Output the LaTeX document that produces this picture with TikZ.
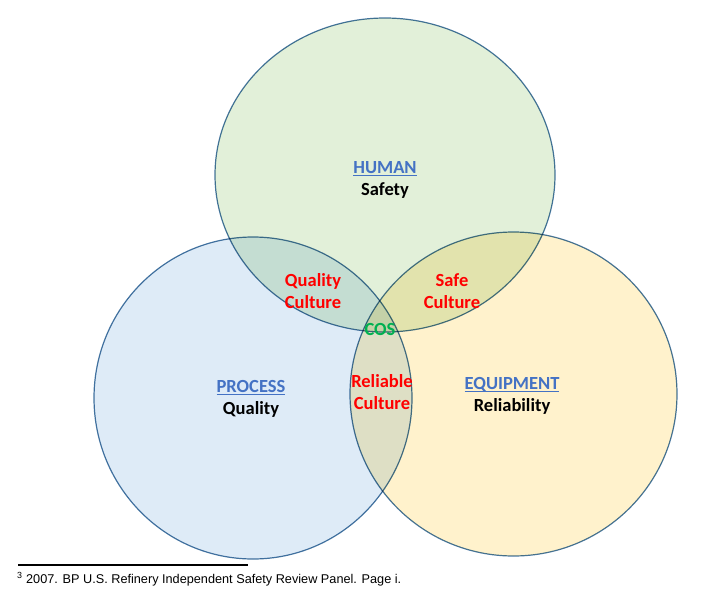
\documentclass[tikz,border=0pt]{standalone}
\usepackage{fontspec}
\setmainfont{Carlito}
\newfontfamily\notefont{Liberation Sans}
\usetikzlibrary{positioning}
\definecolor{ringline}{RGB}{70,118,162}
\definecolor{humanfill}{RGB}{226,240,217}
\definecolor{processfill}{RGB}{222,235,247}
\definecolor{equipfill}{RGB}{255,242,204}
\definecolor{headblue}{RGB}{68,114,196}
\definecolor{cultred}{RGB}{255,0,0}
\definecolor{cosgreen}{RGB}{0,176,80}
\newcommand\headline[1]{\setbox0\hbox{#1}\rlap{\rule[-2.8pt]{\wd0}{1.2pt}}\box0}

\begin{document}
\begin{tikzpicture}[
  x=1pt, y=-1pt,
  ring/.style={draw=ringline, line width=1.2pt, fill=#1, blend mode=multiply},
  lbl/.style={align=center, inner sep=0pt, font=\fontsize{18.5}{22.5}\selectfont\bfseries, text=#1},
  lbl/.default=black,
]
\useasboundingbox (0,0) rectangle (714,594);

% the three rings
\begin{scope}[blend group=multiply]
\path[ring=humanfill] (385,175) ellipse [x radius=170, y radius=157];
\path[ring=processfill] (253,398) ellipse [x radius=159, y radius=161];
\path[ring=equipfill] (513.5,394) ellipse [x radius=163.5, y radius=162];
\end{scope}

\node[lbl] (human) at (385,180) {{\color{headblue}\headline{HUMAN}}\\Safety};
\node[lbl] (process) at (251,399) {{\color{headblue}\headline{PROCESS}}\\Quality};
\node[lbl] (equip) at (512,396) {{\color{headblue}\headline{EQUIPMENT}}\\Reliability};

\node[lbl=cultred] (qcult) at (313,291) {Quality\\Culture};
\node[lbl=cultred] (scult) at (452,291) {Safe\\Culture};
\node[lbl=cultred] (rcult) at (382,392) {Reliable\\Culture};
\node[lbl=cosgreen] (cos) at (380,329) {COS};

% footnote
\draw[line width=1.1pt] (18,565) -- (248,565);
\node[anchor=base west, inner sep=0pt, font=\notefont\fontsize{12.7}{14}\selectfont] (note) at (17,583)
  {\textsuperscript{3} 2007. BP U.S. Refinery Independent Safety Review Panel. Page i.};
\end{tikzpicture}
\end{document}
